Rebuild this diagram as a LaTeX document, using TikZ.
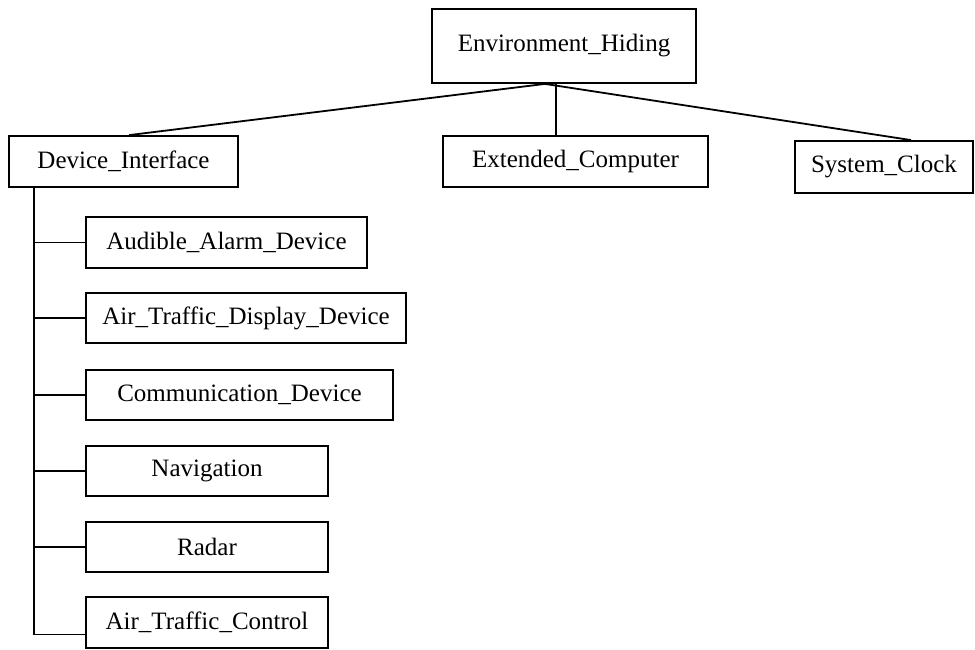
\documentclass[tikz,border=0pt]{standalone}
\usepackage{fontspec}
\setmainfont{Liberation Serif}
\begin{document}
\begin{tikzpicture}[x=1pt,y=-1pt,
  box/.style={draw,line width=1.8pt,inner sep=0pt,font=\fontsize{25}{29}\selectfont,anchor=center},
  link/.style={line width=1.8pt}]
\useasboundingbox (0,0) rectangle (975,649);
\node[box,minimum width=264pt,minimum height=74pt] (env) at (564,46) {Environment\_Hiding};
\node[box,minimum width=229pt,minimum height=51pt] (di) at (123.5,161.5) {Device\_Interface};
\node[box,minimum width=265pt,minimum height=51pt] (ext) at (575.5,161.5) {Extended\_Computer};
\node[box,minimum width=178pt,minimum height=52pt] (sc) at (884,167) {System\_Clock};
\node[box,minimum width=281pt,minimum height=51pt] (aad) at (226.5,242.5) {Audible\_Alarm\_Device};
\node[box,minimum width=320pt,minimum height=50pt] (atd) at (246,318) {Air\_Traffic\_Display\_Device};
\node[box,minimum width=307pt,minimum height=50pt] (com) at (239.5,395) {Communication\_Device};
\node[box,minimum width=242pt,minimum height=50pt] (nav) at (207,471) {Navigation};
\node[box,minimum width=242pt,minimum height=50pt] (rad) at (207,547) {Radar};
\node[box,minimum width=242pt,minimum height=51pt] (atc) at (207,622.5) {Air\_Traffic\_Control};
% junctions
\coordinate (ej) at ([xshift=-19pt]env.south);
\coordinate (dj) at ([xshift=121pt]di.north west);
\coordinate (ecj) at ([xshift=114pt]ext.north west);
\coordinate (scj) at ([xshift=117pt]sc.north west);
\coordinate (tt) at ([xshift=26pt]di.south west);
\coordinate (tb) at ([yshift=-12pt]tt |- atc.west);
\draw[link] (ej) -- (dj);
\draw[link] (ej) -- (scj);
\draw[link] (env.south -| ecj) -- (ecj);
\draw[link] (tt) -- (tb) -- (tb -| atc.west);
\foreach \c in {aad,atd,com,nav,rad}{
  \draw[link] (tt |- \c.west) -- (\c.west);
}
\end{tikzpicture}
\end{document}
